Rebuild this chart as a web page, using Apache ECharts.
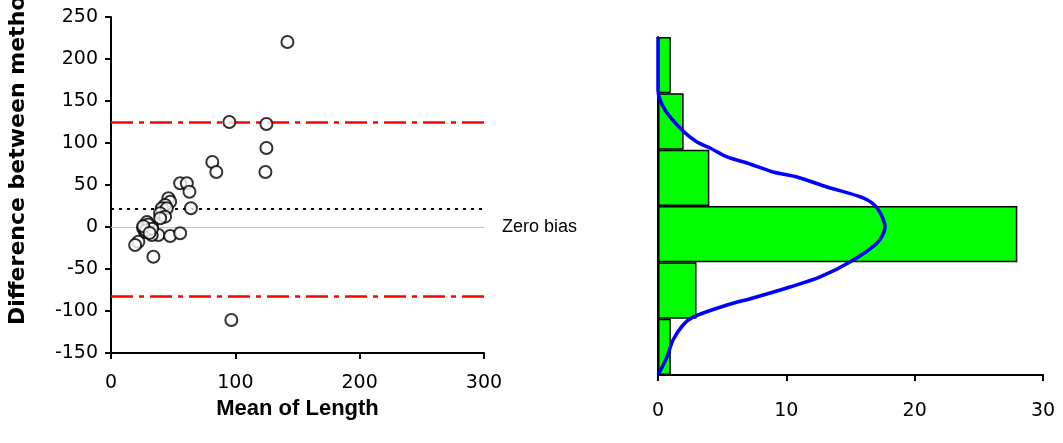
<!DOCTYPE html>
<html>
<head>
<meta charset="utf-8">
<script src="https://cdn.jsdelivr.net/npm/echarts@6/dist/echarts.min.js"></script>
<style>
html, body { margin: 0; padding: 0; background: #fff; }
#main { width: 1063px; height: 443px; }
</style>
</head>
<body>
<div id="main"></div>
<script>
// Bland-Altman style plot: mean vs difference, plus histogram of differences
const meanLength = [141.9, 95.2, 125, 125, 124.2, 81.5, 84.7, 55.6, 61, 63.1, 64.3, 46.2, 47.6, 43.5, 40.9, 44.9, 39.5, 43.5, 39.5,
  27.4, 29.8, 31.5, 27.4, 33, 29, 25.8, 38.1, 47.6, 55.6, 32.8, 22, 19.4, 34.1, 96.8, 30, 28, 33, 26, 31];
const difference = [220.2, 125, 122.6, 94, 65.5, 77.4, 65.5, 52, 52, 42, 22.3, 34.2, 30.1, 26.2, 22.3, 22.3, 16.3, 12.3, 10.4,
  2.4, -1.2, -3.6, -6, 0, 6, -1.2, -9.5, -10.7, -7.5, -9.5, -17.5, -21.4, -35.4, -110.7, 3, -4, -2, 1, -7];

const meanBias = 21.4;
const upperLimit = 125;
const lowerLimit = -82;

// histogram bins, bottom to top
const binLabels = ['-150', '-83', '-17', '50', '117', '183'];
const binCounts = [1, 3, 28, 4, 2, 1];

// fitted normal curve
const curveCount = [0, 0, 0.55, 1.87, 3.04, 4.05, 5.38, 6.94, 8.96, 10.83, 13.17, 15.98, 17.07, 17.69, 17.07, 14.96,
  12.63, 10.29, 7.4, 5.38, 2.73, 1.95, 1.17, 0.7, 0];
const curveDiff = [250, 187.3, 163.6, 140, 125.7, 118.6, 108, 100.9, 90.2, 84.3, 72.5, 59.5, 47.6, 25.1, 6.2, -16.3,
  -34, -45.9, -58.9, -67.2, -81.4, -90.8, -108.6, -128.7, -150];

const tickFont = { color: '#000', fontFamily: 'DejaVu Sans', fontSize: 19 };
const axisLine = { show: true, onZero: false, lineStyle: { color: '#000', width: 2 } };
const axisTick = { show: true, inside: false, length: 6, lineStyle: { color: '#000', width: 2 } };

const chart = echarts.init(document.getElementById('main'), null, { renderer: 'canvas' });

chart.setOption({
  animation: false,
  backgroundColor: '#fff',
  grid: [
    { left: 111, top: 17, width: 373, height: 336 },
    { left: 658, top: 37, width: 385, height: 338 }
  ],
  xAxis: [
    {
      gridIndex: 0, type: 'value', min: 0, max: 300, interval: 100,
      axisLine: axisLine,
      axisTick: axisTick,
      axisLabel: Object.assign({ margin: 21 }, tickFont),
      splitLine: { show: false },
      name: 'Mean of Length', nameLocation: 'middle', nameGap: 36,
      nameTextStyle: { color: '#000', fontFamily: 'Liberation Sans', fontWeight: 'bold', fontSize: 22 }
    },
    {
      gridIndex: 1, type: 'value', min: 0, max: 30, interval: 10,
      axisLine: axisLine,
      axisTick: axisTick,
      axisLabel: Object.assign({ margin: 27 }, tickFont),
      splitLine: { show: false }
    }
  ],
  yAxis: [
    {
      gridIndex: 0, type: 'value', min: -150, max: 250, interval: 50,
      axisLine: axisLine,
      axisTick: axisTick,
      axisLabel: Object.assign({ margin: 13 }, tickFont),
      splitLine: { show: false }
    },
    {
      gridIndex: 1, type: 'category', data: binLabels,
      axisLine: axisLine,
      axisTick: { show: false },
      axisLabel: { show: false },
      splitLine: { show: false }
    },
    {
      gridIndex: 1, type: 'value', min: -150, max: 250,
      show: false
    }
  ],
  graphic: [
    {
      type: 'text', x: 18, y: 325, rotation: Math.PI / 2,
      style: {
        text: 'Difference between methods',
        font: 'bold 22px "DejaVu Sans"',
        fill: '#000',
        textAlign: 'left',
        textVerticalAlign: 'middle'
      }
    }
  ],
  series: [
    {
      type: 'scatter', xAxisIndex: 0, yAxisIndex: 0,
      symbol: 'emptyCircle', symbolSize: 12,
      itemStyle: { color: '#000', borderColor: '#000', borderWidth: 2 },
      data: meanLength.map((m, i) => [m, difference[i]]),
      z: 5,
      markLine: {
        silent: true,
        symbol: ['none', 'none'],
        animation: false,
        label: { show: false },
        data: [
          {
            yAxis: 0,
            lineStyle: { color: '#bfbfbf', width: 1, type: 'solid' },
            label: {
              show: true, position: 'end', distance: 18, formatter: 'Zero bias',
              color: '#000', fontFamily: 'Liberation Sans', fontSize: 18
            }
          },
          { yAxis: meanBias, lineStyle: { color: '#000', width: 2, type: [3, 5] } },
          { yAxis: upperLimit, lineStyle: { color: '#ff0000', width: 2.5, type: [22, 6, 5, 6] } },
          { yAxis: lowerLimit, lineStyle: { color: '#ff0000', width: 2.5, type: [22, 6, 5, 6] } }
        ]
      }
    },
    {
      type: 'bar', xAxisIndex: 1, yAxisIndex: 1,
      barCategoryGap: '0%',
      itemStyle: { color: '#00ff00', borderColor: '#000', borderWidth: 1.5 },
      data: binCounts
    },
    {
      type: 'line', xAxisIndex: 1, yAxisIndex: 2,
      symbol: 'none', smooth: 0.3,
      lineStyle: { color: '#0000ff', width: 3.5 },
      data: curveCount.map((c, i) => [c, curveDiff[i]]),
      z: 5
    }
  ]
});
</script>
</body>
</html>
